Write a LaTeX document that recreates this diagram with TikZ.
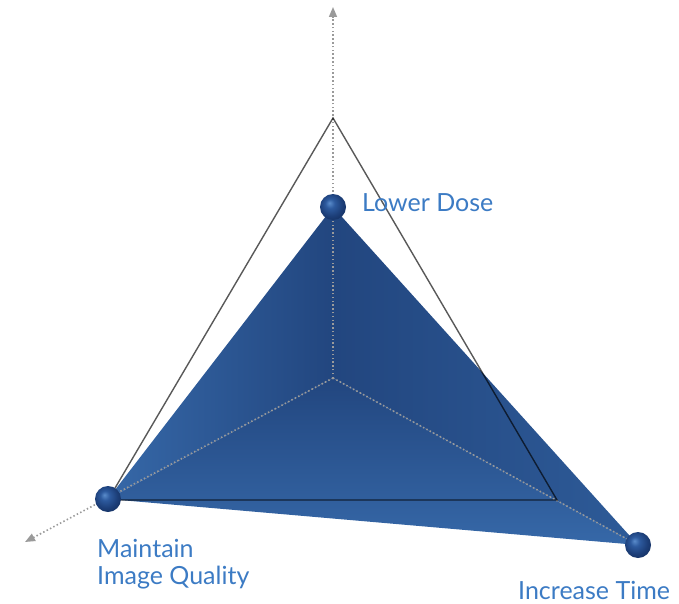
\documentclass[tikz,border=0pt]{standalone}
\usepackage{fontspec}
\setmainfont{Lato}
\usetikzlibrary{arrows.meta}
\definecolor{faceLight}{HTML}{3668A8}
\definecolor{faceMid}{HTML}{2E5B98}
\definecolor{faceDark}{HTML}{22467F}
\definecolor{labelBlue}{HTML}{3C7BC4}
\definecolor{axisGray}{HTML}{9A9A9A}
\definecolor{ballA}{HTML}{5A8CCB}
\definecolor{ballB}{HTML}{2D5A9E}
\definecolor{ballC}{HTML}{1C3E78}
\definecolor{ballD}{HTML}{122C5A}
\pgfdeclareradialshading{gball}{\pgfpoint{-7bp}{8bp}}{%
  color(0bp)=(ballA);
  color(9bp)=(ballB);
  color(22bp)=(ballC);
  color(34bp)=(ballD);
  color(50bp)=(ballD)}
\tikzset{
  axisline/.style={draw=axisGray, line width=1.6pt, dash pattern=on 1.5pt off 2.3pt},
  axisarrow/.style={axisline, -{Triangle[length=10pt,width=8pt,fill=axisGray]}},
  outline/.style={draw=black, draw opacity=0.65, line width=1.4pt, line join=miter},
  ballnode/.style={circle, minimum size=26pt, inner sep=0pt, shading=gball},
  lbl/.style={text=labelBlue, font=\fontsize{25}{30}\selectfont, inner sep=0pt},
}
\begin{document}
\begin{tikzpicture}[x=1pt,y=-1pt]
\useasboundingbox (0,0) rectangle (679,604);
% vertices
\coordinate (O) at (333,378);
\coordinate (T) at (333,207);
\coordinate (L) at (108,499);
\coordinate (R) at (638,545);
\coordinate (aT) at (333,7);
\coordinate (aL) at (25,542);
\coordinate (oT) at (333,118);
\coordinate (oL) at (108,500);
\coordinate (oR) at (557,500);
% faces
\shade[left color=faceLight, right color=faceDark] (T) -- (L) -- (O) -- cycle;
\shade[left color=faceDark, right color=faceMid] (T) -- (R) -- (O) -- cycle;
\shade[top color=faceDark, bottom color=faceLight] (L) -- (O) -- (R) -- cycle;
% axes
\draw[axisarrow] (O) -- (aT);
\draw[axisarrow] (O) -- (aL);
\draw[axisline] (O) -- (R);
% outer triangle
\draw[outline] (oT) -- (oL) -- (oR) -- cycle;
% balls
\node[ballnode] (bT) at (T) {};
\node[ballnode] (bL) at (L) {};
\node[ballnode] (bR) at (R) {};
% labels
\node[lbl, anchor=west] (lT) at (362,203) {Lower Dose};
\node[lbl, anchor=west] (lL1) at (97,548) {Maintain};
\node[lbl, anchor=west] (lL2) at (97,578) {Image Quality};
\node[lbl, anchor=west] (lR) at (518,590) {Increase Time};
\end{tikzpicture}
\end{document}
